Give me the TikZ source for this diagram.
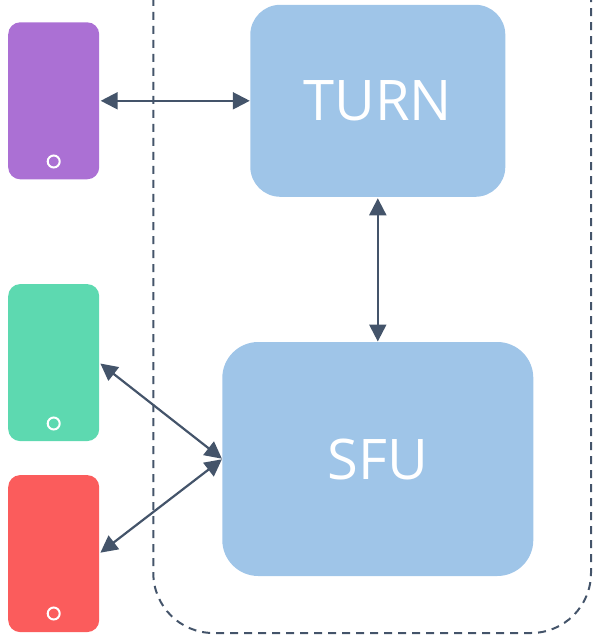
\documentclass[tikz,border=0pt]{standalone}
\usepackage{fontspec}
\setmainfont{Open Sans}
\usetikzlibrary{arrows.meta}
\definecolor{linecol}{HTML}{44546A}
\definecolor{boxblue}{HTML}{9FC5E8}
\definecolor{phonepurple}{HTML}{AB70D4}
\definecolor{phonegreen}{HTML}{5DD9B0}
\definecolor{phonered}{HTML}{FB5C5C}
\tikzset{
  phone/.style={rectangle,rounded corners=12pt,minimum width=91pt,minimum height=157pt,inner sep=0pt,outer sep=0pt},
  server/.style={rectangle,fill=boxblue,text=white,inner sep=0pt,outer sep=0pt,font=\fontsize{56}{56}\selectfont},
  homebtn/.style={circle,draw=white,line width=2pt,minimum size=12pt,inner sep=0pt},
  link/.style={draw=linecol,line width=2.2pt,{Triangle[length=17pt,width=17pt]}-{Triangle[length=17pt,width=17pt]},shorten <=1.5pt,shorten >=0.5pt},
  zone/.style={draw=linecol,line width=2pt,dash pattern=on 8pt off 6pt}
}
\begin{document}
\begin{tikzpicture}[x=1pt,y=-1pt]
\useasboundingbox (0,0) rectangle (593,636);
\draw[zone] (153.3,-2) -- (153.3,573) arc[start angle=180,end angle=90,radius=60] -- (531,633) arc[start angle=90,end angle=0,radius=60] -- (591,-2);
\node[phone,fill=phonepurple] (p1) at (53.7,100.8) {};
\node[phone,fill=phonegreen] (p2) at (53.7,362.6) {};
\node[phone,fill=phonered] (p3) at (53.7,553.6) {};
\node[homebtn] (b1) at (53.7,161.5) {};
\node[homebtn] (b2) at (53.7,423.5) {};
\node[homebtn] (b3) at (53.7,613.5) {};
\node[server,rounded corners=30pt,minimum width=255pt,minimum height=192pt] (turn) at (377.8,100.8) {TURN};
\node[server,rounded corners=36pt,minimum width=311pt,minimum height=234pt] (sfu) at (377.8,459) {SFU};
\draw[link] (p1.east) -- (turn.west);
\draw[link] (turn.south) -- (sfu.north);
\draw[link] (p2.east) -- (sfu.west);
\draw[link] (p3.east) -- (sfu.west);
\end{tikzpicture}
\end{document}
